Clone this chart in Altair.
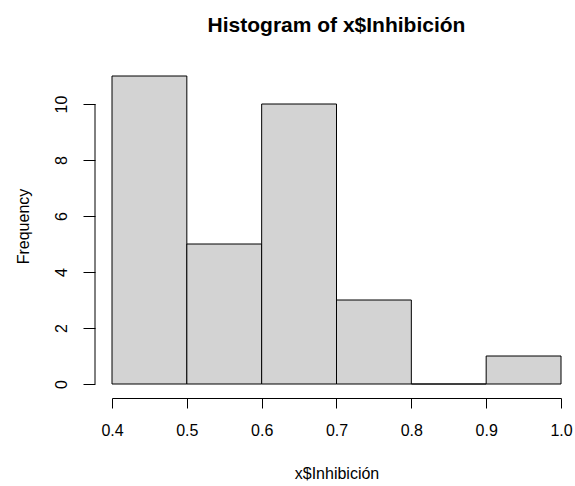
import altair as alt
import pandas as pd

bin_start = [0.4, 0.5, 0.6, 0.7, 0.8, 0.9]
bin_end = [0.5, 0.6, 0.7, 0.8, 0.9, 1.0]
counts = [11, 5, 10, 3, 0, 1]
x_ticks = [0.4, 0.5, 0.6, 0.7, 0.8, 0.9, 1.0]
y_ticks = [0, 2, 4, 6, 8, 10]

df = pd.DataFrame({"start": bin_start, "end": bin_end, "count": counts})
axis_df = pd.DataFrame({"y0": [min(y_ticks)], "y1": [max(y_ticks)]})

FONT = "Liberation Sans"

xscale = alt.Scale(domain=[0.4, 1.0], nice=False, zero=False)
yscale = alt.Scale(domain=[0, 11], nice=False)

bars = alt.Chart(df).mark_rect(fill="#D3D3D3", stroke="black", strokeWidth=1).encode(
    x=alt.X("start:Q", scale=xscale,
            axis=alt.Axis(values=x_ticks, format=".1f", title="x$Inhibición",
                          offset=14, tickSize=10, labelPadding=14,
                          labelFontSize=16, labelFont=FONT, labelColor="black",
                          titleFont=FONT, titleFontSize=16, titleFontWeight="normal",
                          titleColor="black", titleY=80, titleBaseline="alphabetic",
                          domainColor="black", tickColor="black", grid=False,
                          labelFlush=False)),
    x2="end:Q",
    y=alt.Y("count:Q", scale=yscale,
            axis=alt.Axis(values=y_ticks, title="Frequency", offset=17, tickSize=12,
                          labelAngle=270, labelAlign="center", labelBaseline="middle",
                          labelPadding=22, labelFontSize=16, labelFont=FONT,
                          labelColor="black", titleFont=FONT, titleFontSize=16,
                          titleFontWeight="normal", titleColor="black",
                          titleAngle=270, titleAlign="center", titleBaseline="middle",
                          titleX=-72, titleY=150, domain=False,
                          tickColor="black", grid=False)),
    y2=alt.datum(0),
)

yline = alt.Chart(axis_df).mark_rule(color="black", strokeWidth=1).encode(
    x=alt.value(-17),
    y=alt.Y("y0:Q", scale=yscale),
    y2="y1:Q",
)

chart = alt.layer(bars, yline).properties(
    width=449,
    height=308,
    background="white",
    autosize=alt.AutoSizeParams(type="none"),
    padding={"left": 112, "top": 76, "right": 14, "bottom": 102},
    title=alt.TitleParams("Histogram of x$Inhibición", font=FONT, fontSize=21,
                          fontWeight="bold", color="black", anchor="middle",
                          frame="group", baseline="alphabetic", offset=23),
).configure_view(stroke=None, strokeWidth=0)

chart.save("out.html", embed_options={"renderer": "svg", "actions": False})
